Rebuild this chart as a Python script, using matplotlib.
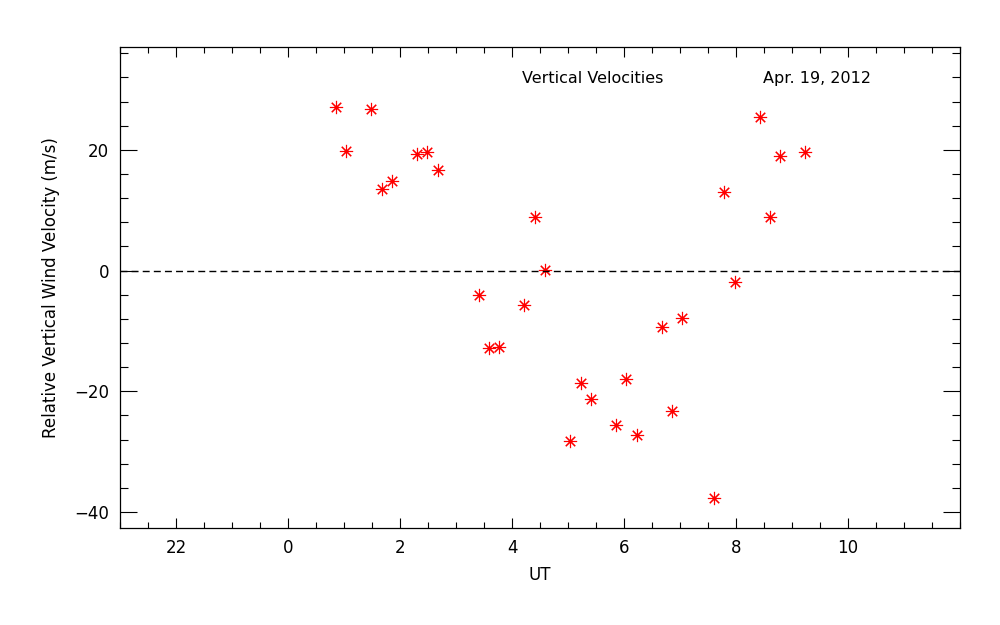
import matplotlib
matplotlib.use('Agg')
import matplotlib.pyplot as plt
from matplotlib.ticker import MultipleLocator

# UT hours (negative = previous day) and relative vertical wind (m/s)
ut = [0.85, 1.04, 1.48, 1.68, 1.86, 2.30, 2.48, 2.68, 3.41, 3.59,
      3.77, 4.21, 4.41, 4.59, 5.04, 5.23, 5.41, 5.86, 6.04, 6.23,
      6.68, 6.86, 7.04, 7.60, 7.79, 7.98, 8.42, 8.60, 8.79, 9.23]
vel = [27.1, 19.8, 26.7, 13.5, 14.9, 19.3, 19.6, 16.7, -4.1, -12.9,
       -12.7, -5.7, 8.9, 0.1, -28.2, -18.6, -21.2, -25.5, -18.0, -27.2,
       -9.4, -23.3, -7.9, -37.7, 13.0, -1.9, 25.4, 8.9, 19.0, 19.6]

xticks = [-2, 0, 2, 4, 6, 8, 10]
xticklabels = ['22', '0', '2', '4', '6', '8', '10']
yticks = [-40, -20, 0, 20]

fig = plt.figure(figsize=(10, 6.25), dpi=100)
ax = fig.add_axes([0.12, 0.1547, 0.84, 0.7696])

ax.plot(ut, vel, linestyle='none', marker=(8, 2, 0), markersize=9.5,
        markeredgecolor='red', markerfacecolor='red', markeredgewidth=0.8)
ax.axhline(0, color='black', linestyle=(0, (5, 3)), linewidth=1.0)

ax.set_xlim(-3, 12)
ax.set_ylim(-42.7, 37)
ax.set_xticks(xticks)
ax.set_xticklabels(xticklabels)
ax.xaxis.set_minor_locator(MultipleLocator(0.5))
ax.set_yticks(yticks)
ax.yaxis.set_minor_locator(MultipleLocator(4))

ax.tick_params(axis='x', which='major', direction='in', length=7.2, width=0.8,
               top=True, labelsize=12, pad=8)
ax.tick_params(axis='x', which='minor', direction='in', length=4, width=0.8, top=True)
ax.tick_params(axis='y', which='major', direction='in', length=12.2, width=0.8,
               right=True, labelsize=12, pad=8)
ax.tick_params(axis='y', which='minor', direction='in', length=5.8, width=0.8, right=True)
for s in ax.spines.values():
    s.set_linewidth(0.9)

ax.set_xlabel('UT', fontsize=12, labelpad=6)
ax.set_ylabel('Relative Vertical Wind Velocity (m/s)', fontsize=12, labelpad=10)

ax.text(0.4786, 0.936, 'Vertical Velocities', transform=ax.transAxes,
        fontsize=11.5, va='center', ha='left')
ax.text(0.7655, 0.936, 'Apr. 19, 2012', transform=ax.transAxes,
        fontsize=11.5, va='center', ha='left')

plt.savefig('out.png', dpi=100)
